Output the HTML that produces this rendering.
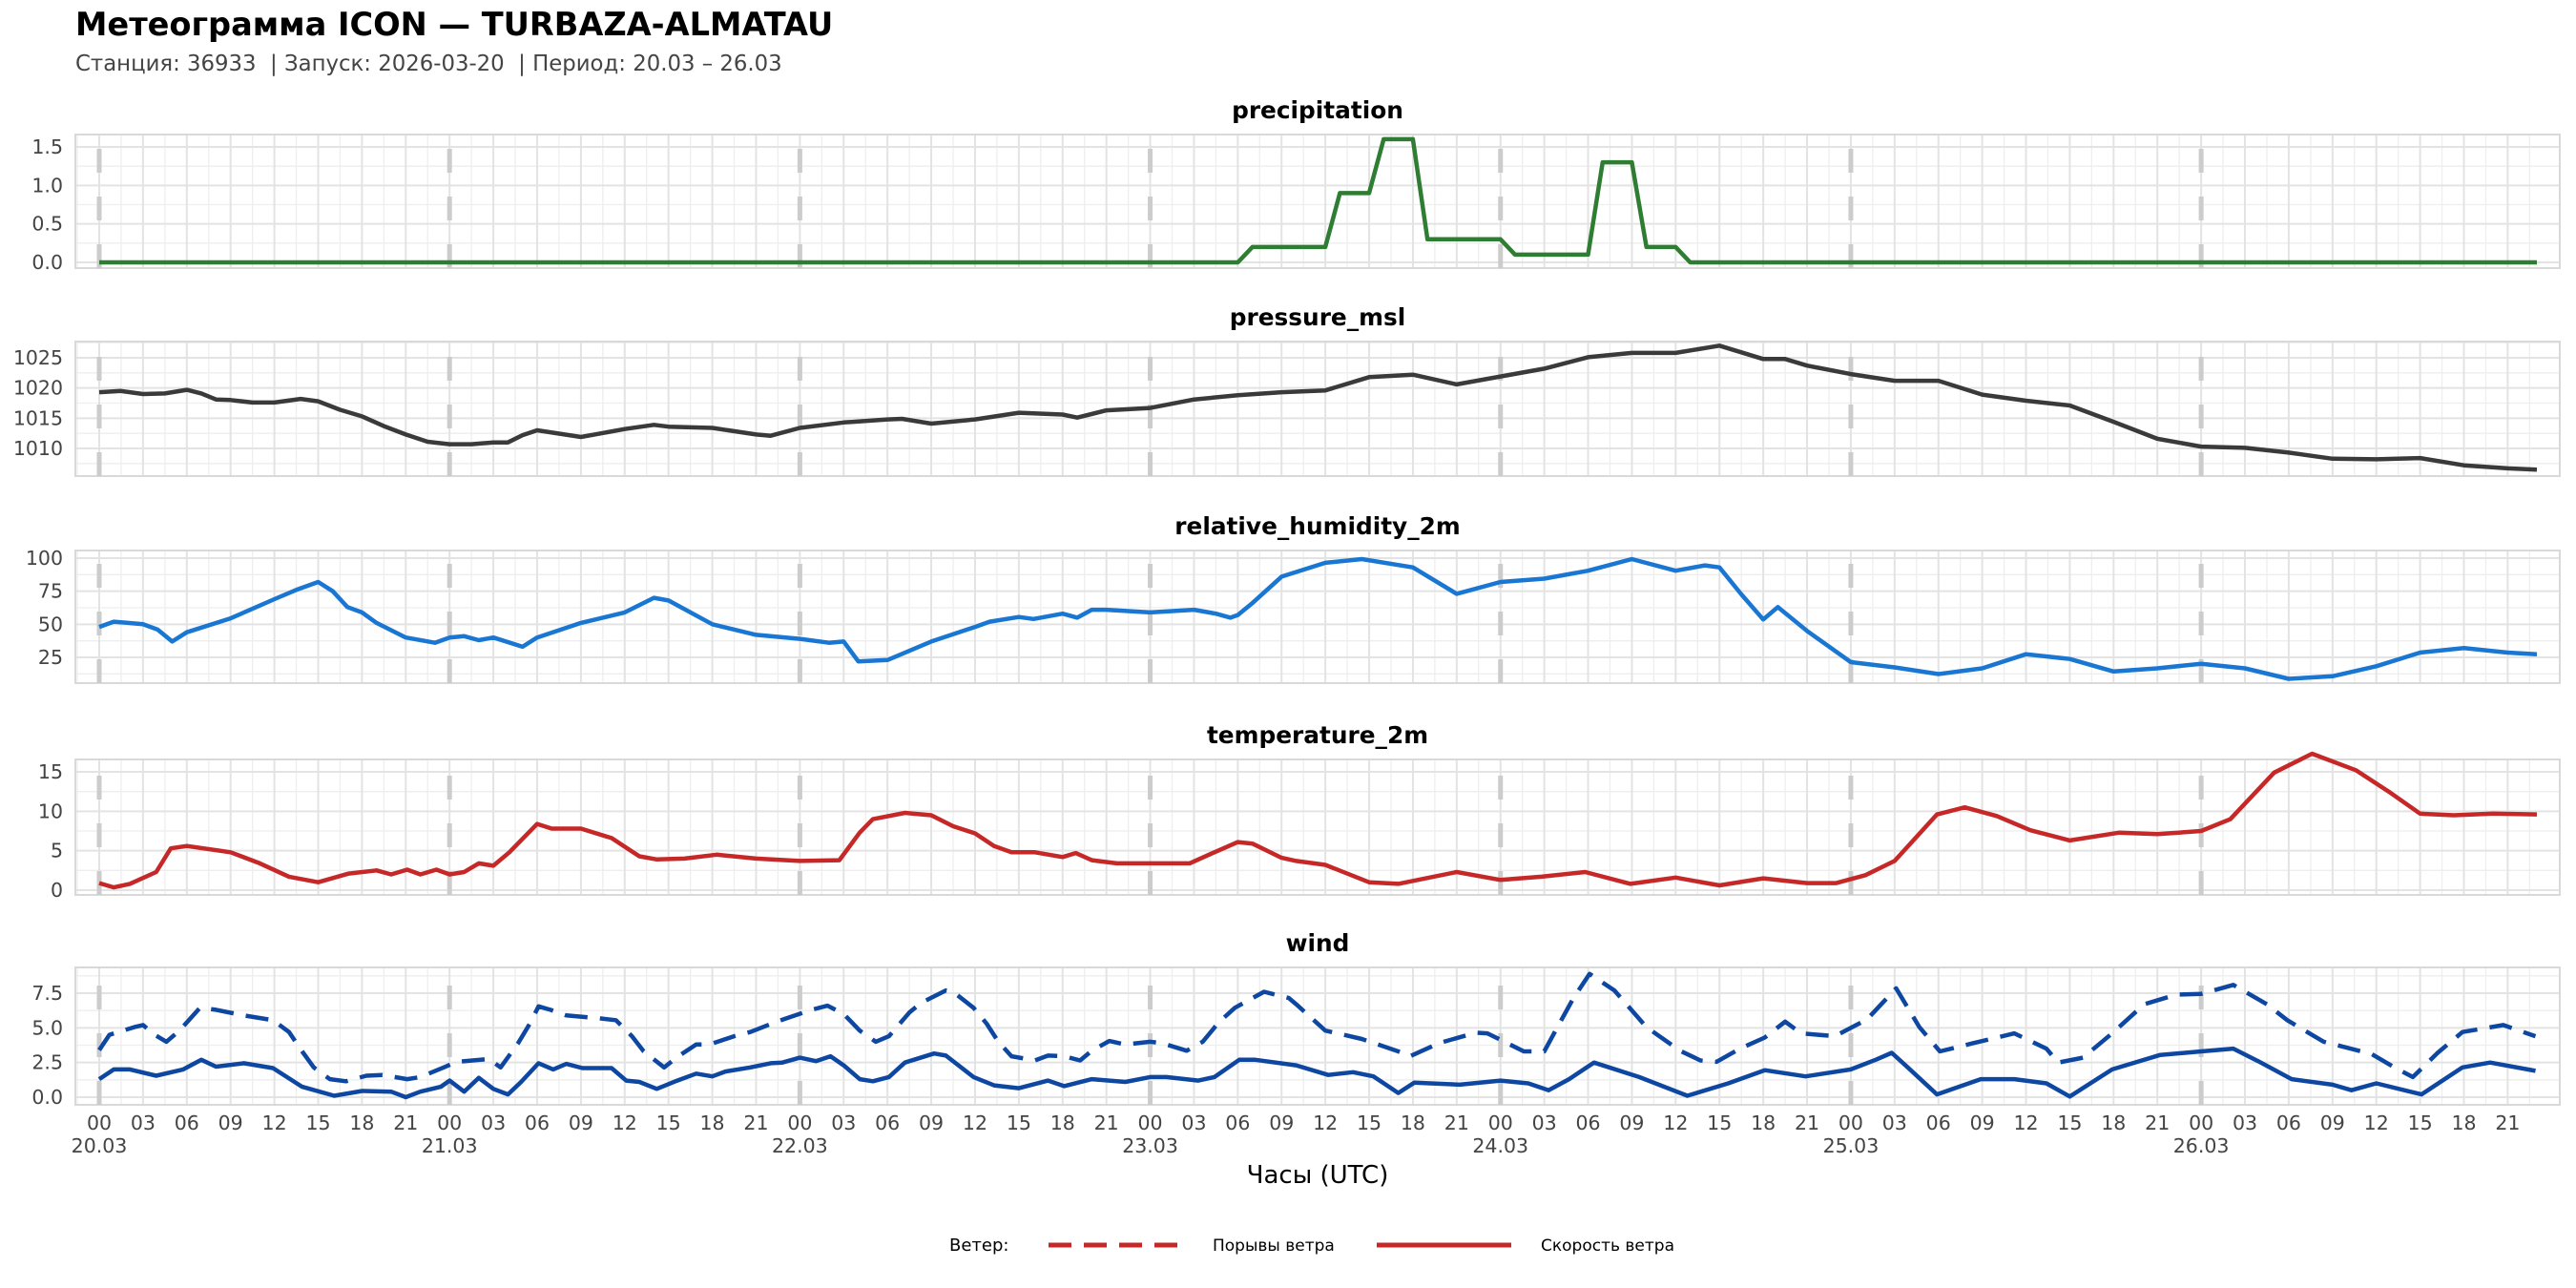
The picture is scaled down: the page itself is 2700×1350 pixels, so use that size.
<!DOCTYPE html>
<html><head><meta charset="utf-8"><style>
html,body{margin:0;padding:0;background:#fff;}
svg{display:block;font-family:"DejaVu Sans","Liberation Sans",sans-serif;}
</style></head><body>
<svg id="chart" width="2700" height="1350" viewBox="0 0 2700 1350" xmlns="http://www.w3.org/2000/svg">
<rect width="2700" height="1350" fill="#fff"/>
<text x="79" y="37" font-size="33.6" font-weight="bold" fill="#000">Метеограмма ICON — TURBAZA-ALMATAU</text>
<text x="79" y="74" font-size="22.8" fill="#444" xml:space="preserve">Станция: 36933  | Запуск: 2026-03-20  | Период: 20.03 – 26.03</text>
<text x="1381" y="1240" font-size="26" text-anchor="middle" fill="#000">Часы (UTC)</text>
<g>
<text x="995" y="1311" font-size="18" fill="#000">Ветер:</text>
<line x1="1099" y1="1305" x2="1240" y2="1305" stroke="#c62828" stroke-width="5" stroke-dasharray="24 13"/>
<text x="1271" y="1311" font-size="17" fill="#000">Порывы ветра</text>
<line x1="1443" y1="1305" x2="1584" y2="1305" stroke="#c62828" stroke-width="5"/>
<text x="1615" y="1311" font-size="17" fill="#000">Скорость ветра</text>
</g>
</svg>
<script>
const hourTicks = [0,3,6,9,12,15,18,21,24,27,30,33,36,39,42,45,48,51,54,57,60,63,66,69,72,75,78,81,84,87,90,93,96,99,102,105,108,111,114,117,120,123,126,129,132,135,138,141,144,147,150,153,156,159,162,165];
const dayLabels = ["20.03","21.03","22.03","23.03","24.03","25.03","26.03"];

const precipHours = [0,78,79,84,85,87,88,90,91,96,97,102,103,105,106,108,109,167];
const precipValues = [0,0,0.2,0.2,0.9,0.9,1.6,1.6,0.3,0.3,0.1,0.1,1.3,1.3,0.2,0.2,0,0];
const precipTicks = [0,0.5,1.0,1.5];

const pressureHours = [0,1.5,3,4.5,6,7,8,9,10.5,12,13.8,15,16.5,18,19.5,21,22.5,24,25.5,27,28,29,30,33,36,38,39,42,45,46,48,51,54,55,57,60,63,66,67,69,72,75,78,81,84,87,90,93,96,99,102,105,108,111,114,115.5,117,120,123,126,129,132,135,138,141,144,147,150,153,156,159,162,165,167];
const pressureValues = [1019.3,1019.5,1019.0,1019.1,1019.7,1019.1,1018.1,1018.0,1017.6,1017.6,1018.2,1017.8,1016.4,1015.3,1013.7,1012.3,1011.1,1010.7,1010.7,1011.0,1011.0,1012.2,1013.0,1011.9,1013.2,1013.9,1013.6,1013.4,1012.3,1012.1,1013.4,1014.3,1014.8,1014.9,1014.1,1014.8,1015.9,1015.6,1015.1,1016.3,1016.7,1018.1,1018.8,1019.3,1019.6,1021.8,1022.2,1020.6,1021.9,1023.2,1025.1,1025.8,1025.8,1027.0,1024.8,1024.8,1023.7,1022.3,1021.2,1021.2,1018.9,1017.9,1017.1,1014.4,1011.6,1010.3,1010.1,1009.3,1008.3,1008.2,1008.4,1007.2,1006.7,1006.5];
const pressureTicks = [1010,1015,1020,1025];

const rhHours = [0,1,3,4,5,6,9,12,13.5,15,16,17,18,19,21,23,24,25,26,27,29,30,33,36,38,39,42,45,48,50,51,52,54,57,60,61,63,64,66,67,68,69,72,75,76.5,77.5,78,79,81,84,86.5,90,93,96,99,102,105,108,110,111,112.5,114,115,117,120,123,126,129,132,135,138,141,144,147,150,153,156,159,162,165,167];
const rhValues = [48,52,50,46,37,44,54.5,69,76,82,75,63,59,51,40,36,40,41,38,40,33,40,51,59,70,68,50,42,39,36,37,22,23,37,48,52,55.5,54,58,55,61,61,59,61,58,55,57,66,86,96.5,99.3,93,73,82,84.5,90.5,99.3,90.5,94.5,93,72.6,53.6,63,45,21.4,17.4,12.4,16.7,27.4,23.8,14.3,16.7,20.2,16.7,8.8,10.7,18.3,28.6,32,28.6,27.4];
const rhTicks = [25,50,75,100];

const tempHours = [0,1,2.1,3.9,4.9,6,9,11,13,15,17.1,19,20,21.1,22,23.1,24,25,26,27,28.1,30,31,33,35.1,37,38.2,40.1,42.3,45,48,50.7,52.1,53,55.2,57,58.5,60,61.3,62.5,64.1,66,66.9,68,69.7,72,74.7,76.4,78,79,81,82,84,87,89,93,96,98.8,101.8,104.9,108,111,114,117,119,121,123,125.9,127.8,130,132.3,135,138.4,141,144,146,149,151.6,154.6,157,159,161.3,164,167];
const tempValues = [0.9,0.35,0.8,2.3,5.3,5.6,4.8,3.4,1.7,1.0,2.1,2.5,2.0,2.6,2.0,2.6,2.0,2.3,3.4,3.1,4.8,8.4,7.8,7.8,6.6,4.3,3.9,4.0,4.5,4.0,3.7,3.8,7.3,9.0,9.8,9.5,8.1,7.2,5.6,4.8,4.8,4.2,4.7,3.8,3.4,3.4,3.4,4.8,6.1,5.9,4.1,3.7,3.2,1.0,0.8,2.3,1.3,1.7,2.3,0.8,1.6,0.6,1.5,0.9,0.9,1.9,3.7,9.6,10.5,9.4,7.6,6.3,7.3,7.1,7.5,9.0,14.9,17.3,15.2,12.3,9.7,9.5,9.7,9.6];
const tempTicks = [0,5,10,15];

const speedHours = [0,1,2.1,3.9,5.75,7,8,9.9,11.9,13.9,16.1,18,20,21,22,23.4,24,25,26,27,28,28.9,30.1,31.1,32,33.1,35.1,36.1,37,38.2,39.6,40.9,42,42.9,44.6,46,46.8,48,49.1,50.1,51,52.1,53,54.1,55.2,57.2,58,59.9,61.3,63,65,66.1,68,70.3,72,73.1,75.3,76.4,78.1,79.2,82,84.2,85.9,87.3,89,90.1,93.2,96,97.9,99.3,100.7,102.4,105.5,108.8,111.6,114.1,116.9,120,121.7,122.8,123.9,125.9,128.9,131.2,133.4,135,137.9,141.2,144,146.2,147.9,150.2,153,154.3,156,159.1,161.9,163.8,166.9];
const speedValues = [1.3,2.0,2.0,1.55,2.0,2.7,2.2,2.45,2.1,0.75,0.1,0.45,0.4,0.0,0.4,0.75,1.2,0.4,1.4,0.6,0.2,1.1,2.45,2.0,2.4,2.1,2.1,1.2,1.1,0.6,1.2,1.7,1.5,1.85,2.15,2.45,2.5,2.85,2.6,2.95,2.3,1.3,1.15,1.45,2.5,3.15,3.0,1.45,0.85,0.65,1.2,0.8,1.3,1.1,1.45,1.45,1.2,1.45,2.7,2.7,2.3,1.6,1.8,1.5,0.3,1.05,0.9,1.2,1.0,0.5,1.3,2.5,1.45,0.1,1.0,1.95,1.5,2.0,2.7,3.2,2.15,0.2,1.3,1.3,1.0,0.05,2.0,3.05,3.3,3.5,2.6,1.3,0.9,0.5,1.0,0.2,2.15,2.5,1.9];

const gustHours = [0,0.7,2.4,3,3.8,4.6,5.5,6.9,8,9.9,11.9,13,13.9,14.7,15.8,16.9,18.3,19.4,21.1,22,23.6,24.5,26.7,27.5,28.7,29.5,30.1,30.9,32,34.2,35.4,36.5,37.3,38.7,39.6,40.9,41.8,43.5,44.6,46.3,47.1,48.8,49.9,51,52.1,53.2,54.1,55.5,56.3,58,58.5,59.9,60.8,61.6,62.5,64.1,65,66.1,67.2,68,69.2,70.3,72,72.8,74.5,75.6,76.7,77.8,79.8,81.5,82,84,86.5,89,89.8,91.8,94.3,95.1,97.6,99,99.9,101,102.1,103.8,106,108.3,109.7,110.8,112.4,114.1,115.5,116.6,118.9,121.1,123.1,124.7,126.1,128.4,131.2,133.4,134.2,135.9,137.9,140.1,142.3,144,146.2,148.5,149.9,152.4,155.7,157.4,158.5,160.2,161.9,164.7,166.9];
const gustValues = [3.4,4.5,5.05,5.2,4.5,4.0,4.8,6.45,6.3,5.9,5.55,4.7,3.3,2.15,1.3,1.15,1.55,1.6,1.3,1.45,2.15,2.55,2.75,2.15,3.9,5.3,6.55,6.3,5.9,5.7,5.55,4.4,3.3,2.15,2.9,3.8,3.8,4.4,4.7,5.4,5.7,6.3,6.6,6.0,4.8,4.0,4.4,6.1,6.8,7.7,7.6,6.45,5.3,4.0,2.95,2.65,3.0,2.95,2.65,3.35,4.05,3.8,4.0,3.9,3.35,4.0,5.4,6.45,7.6,7.15,6.7,4.8,4.2,3.3,2.95,3.9,4.65,4.6,3.3,3.3,5.05,7.15,8.9,7.7,5.05,3.35,2.65,2.55,3.5,4.3,5.45,4.6,4.4,5.6,7.85,5.05,3.3,3.9,4.6,3.5,2.5,2.85,4.6,6.7,7.4,7.45,8.1,6.7,5.55,4.0,3.1,2.05,1.45,3.2,4.7,5.2,4.4];
const windTicks = [0,2.5,5.0,7.5];

const NS = "http://www.w3.org/2000/svg";
const svg = document.getElementById('chart');
const X0 = 79, X1 = 2683;
function xs(h){ return 104 + h * (2555/167); }
function mk(tag, attrs, parent){
  const e = document.createElementNS(NS, tag);
  for (const k in attrs) e.setAttribute(k, attrs[k]);
  (parent || svg).appendChild(e);
  return e;
}
function makeY(v0, y0, v1, y1){ return v => y0 + (v - v0) * (y1 - y0) / (v1 - v0); }

const panels = [
  {name:'precipitation', title:'precipitation', top:141, bottom:281, y:makeY(0,275,1.5,154), ticks:precipTicks, minor:[0.25,0.75,1.25], fmt:v=>v.toFixed(1)},
  {name:'pressure', title:'pressure_msl', top:358, bottom:499, y:makeY(1010,470,1025,375), ticks:pressureTicks, minor:[1007.5,1012.5,1017.5,1022.5,1027.5], fmt:v=>String(v)},
  {name:'humidity', title:'relative_humidity_2m', top:577, bottom:716, y:makeY(25,689,100,585), ticks:rhTicks, minor:[12.5,37.5,62.5,87.5], fmt:v=>String(v)},
  {name:'temperature', title:'temperature_2m', top:796, bottom:938, y:makeY(0,933,15,809), ticks:tempTicks, minor:[2.5,7.5,12.5,17.5], fmt:v=>String(v)},
  {name:'wind', title:'wind', top:1014, bottom:1158, y:makeY(0,1150,7.5,1041), ticks:windTicks, minor:[1.25,3.75,6.25,8.75], fmt:v=>v.toFixed(1)}
];

function linePath(hours, vals, y){
  let d = '';
  for (let i = 0; i < hours.length; i++) d += (i ? 'L' : 'M') + xs(hours[i]).toFixed(1) + ',' + y(vals[i]).toFixed(1);
  return d;
}

panels.forEach(p => {
  const g = mk('g', {});
  
  
  const t = mk('text', {x:(X0+X1)/2, y:p.top-17, 'font-size':24.8, 'font-weight':'bold', 'text-anchor':'middle', fill:'#000'}, g);
  t.textContent = p.title;
  
  
  p.minor.forEach(v => {
    const yy = p.y(v);
    if (yy > p.top && yy < p.bottom) {
      const l = mk('line', {x1:X0, x2:X1, y1:yy, y2:yy, stroke:'#eeeeee', 'stroke-width':1.3}, g);
      
      
    }
  });
  hourTicks.forEach(h => {
    const xm = xs(h + 1.5);
    if (xm < X1) {
      const l = mk('line', {x1:xm, x2:xm, y1:p.top, y2:p.bottom, stroke:'#eeeeee', 'stroke-width':1.3}, g);
      
      
    }
    const xm2 = xs(h - 1.5);
    if (h === 0 && xm2 > X0) {
      const l = mk('line', {x1:xm2, x2:xm2, y1:p.top, y2:p.bottom, stroke:'#eeeeee', 'stroke-width':1.3}, g);
      
      
    }
  });
  hourTicks.forEach(h => {
    const l = mk('line', {x1:xs(h), x2:xs(h), y1:p.top, y2:p.bottom, stroke:'#e3e3e3', 'stroke-width':2}, g);
    
    
  });
  p.ticks.forEach(v => {
    const yy = p.y(v);
    const l = mk('line', {x1:X0, x2:X1, y1:yy, y2:yy, stroke:'#e3e3e3', 'stroke-width':2}, g);
    
    
    const tl = mk('text', {x:66, y:yy+7, 'font-size':20.5, 'text-anchor':'end', fill:'#444'}, g);
    tl.textContent = p.fmt(v);
    
    
  });
  const border = mk('rect', {x:X0, y:p.top, width:X1-X0, height:p.bottom-p.top, fill:'none', stroke:'#d9d9d9', 'stroke-width':2}, g);
  
  
  dayLabels.forEach((d, i) => {
    const xx = xs(i*24);
    const l = mk('line', {x1:xx, x2:xx, y1:p.bottom, y2:p.top+10, stroke:'#cccccc', 'stroke-width':5, 'stroke-dasharray':'25 25'}, g);
    
    
  });
  p.g = g;
});

function series(p, hours, vals, color, name, dash){
  const attrs = {d:linePath(hours, vals, p.y), fill:'none', stroke:color, 'stroke-width':4.5, 'stroke-linejoin':'round'};
  if (dash) attrs['stroke-dasharray'] = dash;
  const path = mk('path', attrs, p.g);
  
  
}
series(panels[0], precipHours, precipValues, '#2e7d32', 'precipitation-line');
series(panels[1], pressureHours, pressureValues, '#3a3a3a', 'pressure-line');
series(panels[2], rhHours, rhValues, '#1976d2', 'humidity-line');
series(panels[3], tempHours, tempValues, '#c62828', 'temperature-line');
series(panels[4], gustHours, gustValues, '#0d47a1', 'wind-gust-line', '24 13');
series(panels[4], speedHours, speedValues, '#0d47a1', 'wind-speed-line');

hourTicks.forEach(h => {
  const t = mk('text', {x:xs(h), y:1184, 'font-size':20.5, 'text-anchor':'middle', fill:'#444'});
  t.textContent = String(h % 24).padStart(2, '0');
  
  
});
dayLabels.forEach((d, i) => {
  const t = mk('text', {x:xs(i*24), y:1208, 'font-size':20.5, 'text-anchor':'middle', fill:'#444'});
  t.textContent = d;
  
  
});
</script>
</body></html>
